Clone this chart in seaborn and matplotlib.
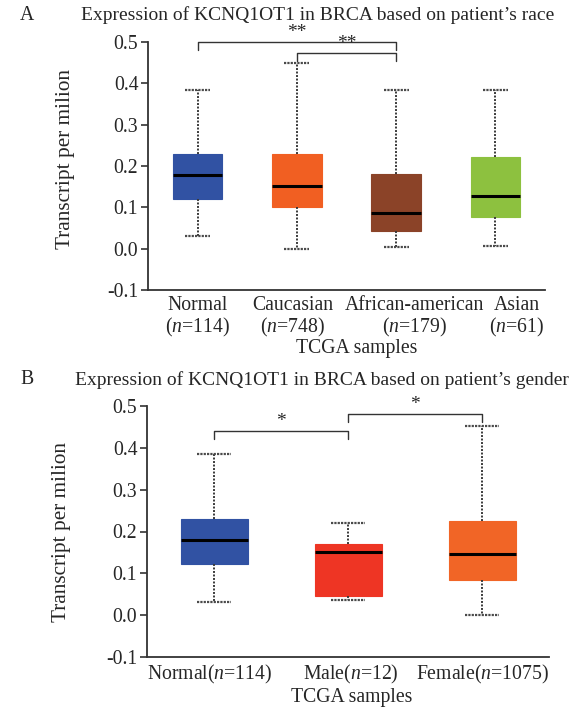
import numpy as np
import pandas as pd
import matplotlib
matplotlib.use("Agg")
import matplotlib.pyplot as plt
import matplotlib.transforms as mtransforms
import seaborn as sns

# five-number summaries: low whisker, Q1, median, Q3, high whisker
race_groups = ["Normal", "Caucasian", "African-american", "Asian"]
race_n = [114, 748, 179, 61]
race_stats = [
    [0.030, 0.120, 0.178, 0.230, 0.385],
    [0.000, 0.100, 0.152, 0.230, 0.449],
    [0.003, 0.042, 0.086, 0.180, 0.385],
    [0.006, 0.077, 0.128, 0.221, 0.385],
]
race_colors = ["#3152A3", "#F15F22", "#8B4328", "#8DC13F"]
race_sig = [(0, 2, 0.500, "**"), (1, 2, 0.473, "**")]

gender_groups = ["Normal", "Male", "Female"]
gender_n = [114, 12, 1075]
gender_stats = [
    [0.031, 0.122, 0.179, 0.230, 0.385],
    [0.036, 0.045, 0.151, 0.170, 0.220],
    [0.000, 0.084, 0.146, 0.225, 0.452],
]
gender_colors = ["#3152A3", "#EE3524", "#F16526"]
gender_sig = [(0, 1, 0.440, "*"), (1, 2, 0.481, "*")]

sns.set_style("ticks")
plt.rcParams["font.family"] = ["Liberation Serif", "DejaVu Serif"]
plt.rcParams["mathtext.fontset"] = "custom"
plt.rcParams["mathtext.rm"] = "Liberation Serif"
plt.rcParams["mathtext.it"] = "Liberation Serif:italic"
plt.rcParams["axes.unicode_minus"] = False

FS = 14.2
LINE = "#333333"


def make_frame(groups, stats):
    rows = []
    for g, s in zip(groups, stats):
        for v in s:
            rows.append({"group": g, "value": v})
    return pd.DataFrame(rows)


def draw_panel(ax, groups, stats, colors, sig, labels, label_shift):
    df = make_frame(groups, stats)
    sns.boxplot(data=df, x="group", y="value", hue="group", palette=colors,
                order=groups, hue_order=groups, legend=False, width=0.5,
                saturation=1, whis=(0, 100), showfliers=False, ax=ax,
                whiskerprops=dict(color="#3a3a3a", linestyle=(0, (1, 0.8)), linewidth=1.4),
                capprops=dict(color="#4a4a4a", linestyle=(0, (1, 0.5)), linewidth=1.6),
                medianprops=dict(color="black", linewidth=2.2))
    for p in ax.patches:
        p.set_edgecolor(p.get_facecolor())
        p.set_linewidth(0.8)
    ax.set_xlim(-0.5, len(groups) - 0.5)
    ax.set_ylim(-0.1, 0.5)
    ticks = np.arange(-0.1, 0.51, 0.1)
    ax.set_yticks(ticks)
    ax.set_yticklabels([f"{t:.1f}" for t in ticks], fontsize=FS)
    ax.set_xticks(range(len(groups)))
    ax.set_xticklabels(labels, fontsize=FS, linespacing=1.1)
    ax.tick_params(axis="x", length=0, pad=4)
    ax.tick_params(axis="y", length=5, width=1.2, color=LINE, pad=2)
    for s in ["top", "right"]:
        ax.spines[s].set_visible(False)
    for s in ["left", "bottom"]:
        ax.spines[s].set_color(LINE)
        ax.spines[s].set_linewidth(1.3)
    fig = ax.figure
    for lab, dx in zip(ax.get_xticklabels(), label_shift):
        lab.set_transform(lab.get_transform() +
                          mtransforms.ScaledTranslation(dx / 100, 0, fig.dpi_scale_trans))
    ax.set_ylabel("Transcript per milion", fontsize=15.3)
    ax.set_xlabel("TCGA samples", fontsize=FS)
    # significance brackets
    for a, b, y, txt in sig:
        ax.plot([a, a, b, b], [y - 0.02, y, y, y - 0.02], color=LINE,
                linewidth=1.0, clip_on=False)
        ax.text((a + b) / 2, y + 0.002, txt, ha="center", va="bottom",
                fontsize=14, clip_on=False)


fig = plt.figure(figsize=(5.77, 7.10), dpi=100)
axA = fig.add_axes([148 / 577, 1 - 290 / 710, 397 / 577, 248 / 710])
axB = fig.add_axes([147 / 577, 1 - 657 / 710, 402 / 577, 251 / 710])

labelsA = [f"{g}\n($\\mathit{{n}}$={n})" for g, n in zip(race_groups, race_n)]
draw_panel(axA, race_groups, race_stats, race_colors, race_sig, labelsA, [0, -4, 18, 21])
axA.yaxis.set_label_coords(-0.184, 0.53)
axA.xaxis.set_label_coords(0.526, -0.235)
axA.xaxis.label.set_va("center")

labelsB = [f"{g}($\\mathit{{n}}$={n})" for g, n in zip(gender_groups, gender_n)]
draw_panel(axB, gender_groups, gender_stats, gender_colors, gender_sig, labelsB, [-4, 3, 0])
axB.yaxis.set_label_coords(-0.19, 0.5)
axB.xaxis.set_label_coords(0.51, -0.163)
axB.xaxis.label.set_va("center")

fig.text(20 / 577, 1 - 15 / 710, "A", fontsize=FS, ha="left", va="center")
fig.text(318 / 577, 1 - 15 / 710, "Expression of KCNQ1OT1 in BRCA based on patient\u2019s race",
         fontsize=14, ha="center", va="center")
fig.text(20 / 577, 1 - 380 / 710, "B", fontsize=FS, ha="left", va="center")
fig.text(322 / 577, 1 - 380 / 710, "Expression of KCNQ1OT1 in BRCA based on patient\u2019s gender",
         fontsize=14, ha="center", va="center")

fig.savefig("out.png", dpi=100)
